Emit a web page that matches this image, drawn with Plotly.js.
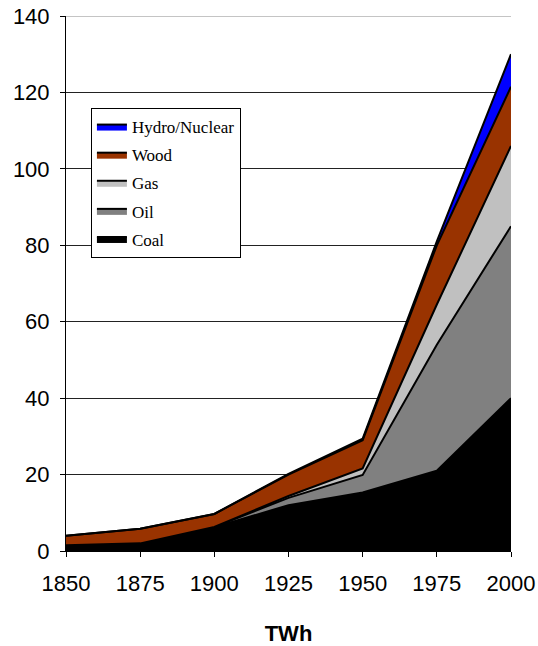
<!DOCTYPE html>
<html>
<head>
<meta charset="utf-8">
<script src="https://cdn.plot.ly/plotly-3.0.1.min.js"></script>
<style>html,body{margin:0;padding:0;background:#fff;}#chart{width:538px;height:646px;}</style>
</head>
<body>
<div id="chart"></div>
<script>
const years = [1850, 1875, 1900, 1925, 1950, 1975, 2000];
const coal = [1.5, 2.0, 6.2, 12.0, 15.3, 21.0, 40.0];
const oil = [0, 0, 0.1, 1.9, 4.6, 33.0, 45.0];
const gas = [0, 0, 0, 0.5, 1.7, 10.5, 21.0];
const wood = [2.5, 3.8, 3.4, 5.6, 7.4, 15.5, 15.5];
const hydroNuclear = [0, 0, 0, 0.2, 0.4, 1.0, 8.5];
const seriesNames = ['Coal', 'Oil', 'Gas', 'Wood', 'Hydro/Nuclear'];
const seriesColors = ['#000000', '#808080', '#C0C0C0', '#993300', '#0000FF'];
const seriesData = [coal, oil, gas, wood, hydroNuclear];
const yTicks = [0, 20, 40, 60, 80, 100, 120, 140];

const traces = seriesData.map((vals, i) => ({
  x: years, y: vals, name: seriesNames[i], type: 'scatter', mode: 'lines',
  stackgroup: 'one', legendgroup: seriesNames[i], legendrank: 5 - i,
  fillcolor: seriesColors[i], line: {color: '#000', width: 2}
}));

const layout = {
  width: 538, height: 646,
  margin: {l: 66, r: 27, t: 16, b: 95},
  paper_bgcolor: '#fff', plot_bgcolor: '#fff',
  showlegend: true,
  legend: {
    x: 0.056, y: 0.828, xanchor: 'left', yanchor: 'top',
    bgcolor: '#fff', bordercolor: '#000', borderwidth: 1,
    traceorder: 'grouped', tracegroupgap: 3,
    font: {family: 'Liberation Serif, Times New Roman, serif', size: 17, color: '#000'}
  },
  xaxis: {
    range: [1850, 2000], tickvals: years, ticktext: years.map(String),
    ticks: 'outside', ticklen: 5, tickcolor: '#000', ticklabelstandoff: 8,
    showline: true, linecolor: '#000', linewidth: 1, showgrid: false, zeroline: false,
    tickfont: {family: 'Liberation Sans, Arial, sans-serif', size: 22, color: '#000'},
    title: {text: '<b>TWh</b>', font: {family: 'Liberation Sans, Arial, sans-serif', size: 22, color: '#000'}, standoff: 30}
  },
  yaxis: {
    range: [0, 140], tickvals: yTicks,
    ticks: 'outside', ticklen: 5, tickcolor: '#000', ticklabelstandoff: 6,
    showline: true, linecolor: '#000', linewidth: 1,
    showgrid: true, gridcolor: '#222', gridwidth: 1, zeroline: false,
    tickfont: {family: 'Liberation Sans, Arial, sans-serif', size: 22, color: '#000'}
  },
  shapes: [{type: 'line', xref: 'paper', yref: 'y', x0: 0, x1: 1, y0: 140, y1: 140, line: {color: '#b0b0b0', width: 1.5}, layer: 'below'}]
};

Plotly.newPlot('chart', traces, layout, {displayModeBar: false, staticPlot: true});
</script>
</body>
</html>
